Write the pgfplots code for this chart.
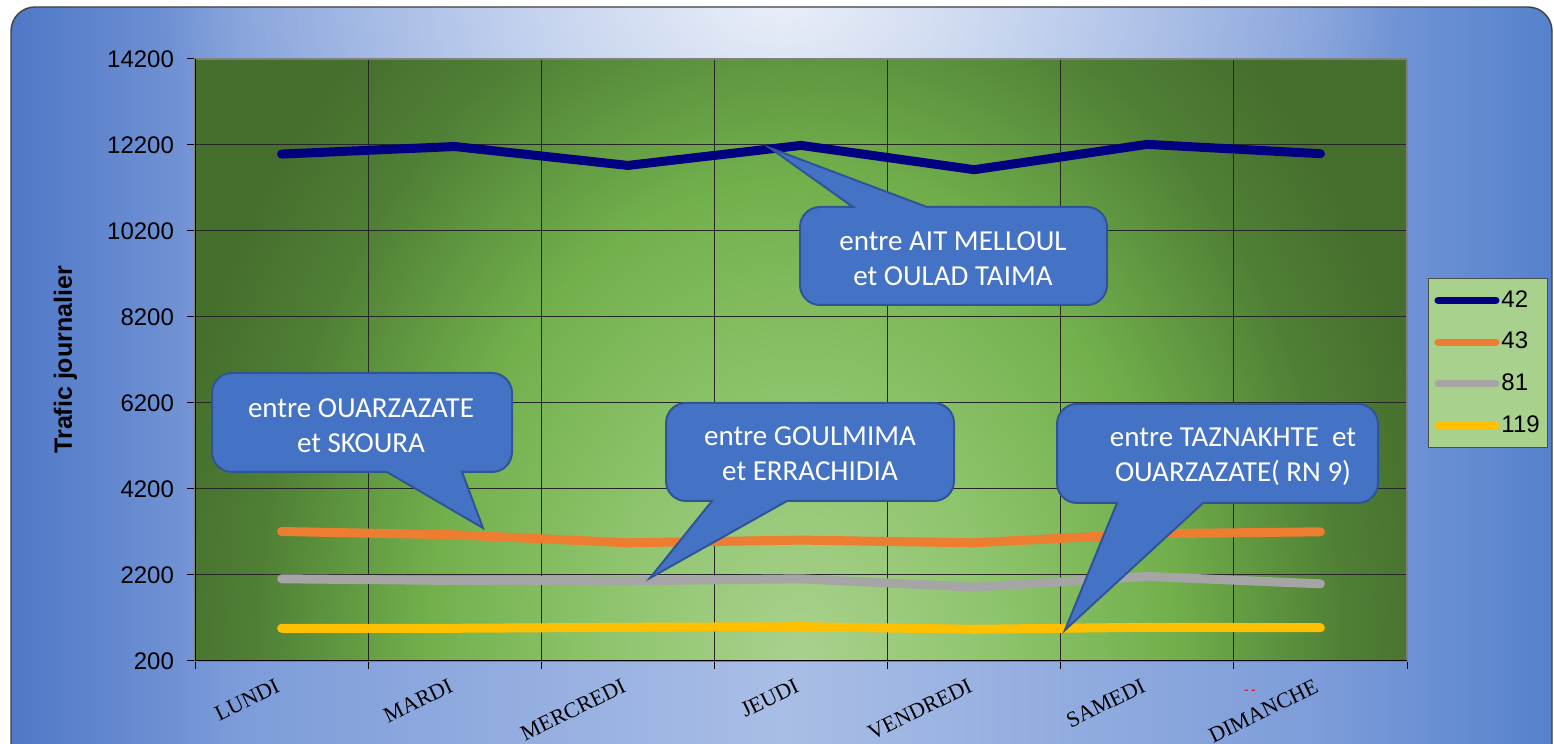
\documentclass[border=0pt]{standalone}
\usepackage{fontspec}
\setmainfont{Liberation Sans}
\newfontfamily\serifx{Liberation Serif}
\newfontfamily\calib{Carlito}
\usepackage{pgfplots}
\pgfplotsset{compat=1.18}
\usetikzlibrary{fadings}

\definecolor{navyc}{HTML}{000080}
\definecolor{orangec}{HTML}{ED7D31}
\definecolor{grayc}{HTML}{A5A5A5}
\definecolor{yellowc}{HTML}{FFC000}
\definecolor{legbg}{HTML}{A9D18E}
\definecolor{callfill}{HTML}{4472C4}
\definecolor{callbd}{HTML}{2F5597}
\definecolor{bgE}{HTML}{4F78C7}
\definecolor{bgE2}{HTML}{7D9CD9}
\definecolor{bgM}{HTML}{A9BEE6}
\definecolor{bgR}{HTML}{5582CC}
\definecolor{gL}{HTML}{A9D18E}
\definecolor{gL2}{HTML}{8EC46C}
\definecolor{gM}{HTML}{72B04C}
\definecolor{gD}{HTML}{4F7F35}
\definecolor{gD2}{HTML}{466F2D}

% path box covers 25bp..75bp of a horizontal shading
\pgfdeclarehorizontalshading{bgh}{100bp}{color(0bp)=(bgE); color(25bp)=(bgE); color(32.5bp)=(bgE2); color(50bp)=(bgM); color(67.5bp)=(bgE2); color(75bp)=(bgR); color(100bp)=(bgR)}
% path box covers -25bp..25bp of a radial shading
\pgfdeclareradialshading{plotbg}{\pgfpoint{0bp}{0bp}}{color(0bp)=(gL); color(8bp)=(gL2); color(15bp)=(gM); color(22bp)=(gD); color(26bp)=(gD2); color(50bp)=(gD2)}
\tikzfading[name=glow, inner color=transparent!0, outer color=transparent!100]

\tikzset{callout/.style={fill=callfill, draw=callbd, line width=1pt},
  calltext/.style={text=white, align=center, font=\calib\fontsize{14.5}{17.5}\selectfont}}

\begin{document}
\begin{tikzpicture}
\useasboundingbox (0,0) rectangle (777pt,372pt);
\begin{scope}[x=0.5pt,y=-0.5pt,shift={(0pt,372pt)}]
\clip (0,0) rectangle (1554,744);
\fill[white] (0,0) rectangle (1554,744);
\shade[shading=bgh, rounded corners=12pt] (11,7) rectangle (1552,780);
\begin{scope}
\clip[rounded corners=12pt] (11,7) rectangle (1552,780);
\fill[white, opacity=0.75, path fading=glow] (780,0) ellipse [x radius=620, y radius=330];
\end{scope}
\draw[black!75, line width=0.7pt, rounded corners=12pt] (11,7) rectangle (1552,780);
% plot area background
\begin{scope}
\clip (195,58.4) rectangle (1407,660.8);
\shade[shading=plotbg] (180,-140) rectangle (1420,1460);
\end{scope}
\node[text=red, font=\fontsize{7}{7}\selectfont, inner sep=0pt] at (1250,692) {-\,-};
\end{scope}

\begin{axis}[
  at={(97.5pt,41.6pt)}, anchor=south west,
  scale only axis, width=606pt, height=301pt,
  xmin=0.5, xmax=7.5, ymin=200, ymax=14200,
  xtick={0.5,1.5,...,7.5},
  x tick label as interval,
  xticklabels={LUNDI,MARDI,MERCREDI,JEUDI,VENDREDI,SAMEDI,DIMANCHE},
  ytick={200,2200,...,14200},
  scaled y ticks=false,
  /pgf/number format/assume math mode=true,
  /pgf/number format/1000 sep={},
  xtick pos=bottom, ytick pos=left,
  tick align=outside, major tick length=4pt,
  tick style={black, line width=0.5pt},
  grid=major, grid style={black!85, line width=0.5pt},
  axis line style={draw=gray, line width=1pt},
  yticklabel style={font=\fontsize{12}{14}\selectfont, xshift=-3pt},
  xticklabel style={font=\serifx\fontsize{11}{12}\selectfont, rotate=26, anchor=north east, inner sep=0pt, yshift=-2.5pt, xshift=-5pt},
  ylabel={Trafic journalier},
  ylabel style={font=\bfseries\fontsize{12.5}{14}\selectfont, at={(axis description cs:-0.107,0.5)}, anchor=center},
  legend style={at={(axis description cs:1.0173,0.636)}, anchor=north west, fill=legbg, draw=black!70, line width=0.5pt,
    font=\fontsize{12}{14}\selectfont, row sep=9pt, inner xsep=3pt, inner ysep=5pt,
    nodes={inner sep=1pt}},
  legend cell align=left,
  legend image code/.code={\draw[#1, line width=3.5pt, line cap=round] (0pt,0pt) -- (29pt,0pt);},
]
\addplot[navyc, line width=4.5pt, line cap=round, line join=round] coordinates {
  (1,11984) (2,12160) (3,11720) (4,12186) (5,11621) (6,12210) (7,11993)};
\addlegendentry{42}
\addplot[orangec, line width=4.5pt, line cap=round, line join=round] coordinates {
  (1,3207) (2,3130) (3,2944) (4,3007) (5,2944) (6,3153) (7,3200)};
\addlegendentry{43}
\addplot[grayc, line width=4.5pt, line cap=round, line join=round] coordinates {
  (1,2107) (2,2068) (3,2060) (4,2107) (5,1914) (6,2161) (7,1990)};
\addlegendentry{81}
\addplot[yellowc, line width=4.5pt, line cap=round, line join=round] coordinates {
  (1,956) (2,956) (3,979) (4,993) (5,933) (6,979) (7,970)};
\addlegendentry{119}
\draw[black, line width=1pt] (rel axis cs:0,1) -- (rel axis cs:0,0) -- (rel axis cs:1,0);
\end{axis}

\begin{scope}[x=0.5pt,y=-0.5pt,shift={(0pt,372pt)}]
% AIT MELLOUL
\path[callout] (950,305) [rounded corners=10pt] -- (800,305) -- (800,207) [sharp corners] -- (853,207) -- (770,148) -- (927,207) [rounded corners=10pt] -- (1107,207) -- (1107,305) -- cycle;
\node[calltext] at (953,258.5) {entre AIT MELLOUL\\et OULAD TAIMA};
% OUARZAZATE SKOURA
\path[callout] (300,373) [rounded corners=10pt] -- (512,373) -- (512,472) [sharp corners] -- (462,472) -- (483,528) -- (387,472) [rounded corners=10pt] -- (212,472) -- (212,373) -- cycle;
\node[calltext] at (361,425.5) {entre OUARZAZATE\\et SKOURA};
% GOULMIMA
\path[callout] (850,403) [rounded corners=10pt] -- (954,403) -- (954,501) [sharp corners] -- (787,501) -- (650,578) -- (712,501) [rounded corners=10pt] -- (666,501) -- (666,403) -- cycle;
\node[calltext] at (810,454) {entre GOULMIMA\\et ERRACHIDIA};
% TAZNAKHTE
\path[callout] (1250,404) [rounded corners=10pt] -- (1378,404) -- (1378,503) [sharp corners] -- (1203,503) -- (1065,630) -- (1117,503) [rounded corners=10pt] -- (1057,503) -- (1057,404) -- cycle;
\node[calltext] at (1233,456.5) {entre TAZNAKHTE\ \ et\\OUARZAZATE( RN 9)};
\end{scope}
\end{tikzpicture}
\end{document}
